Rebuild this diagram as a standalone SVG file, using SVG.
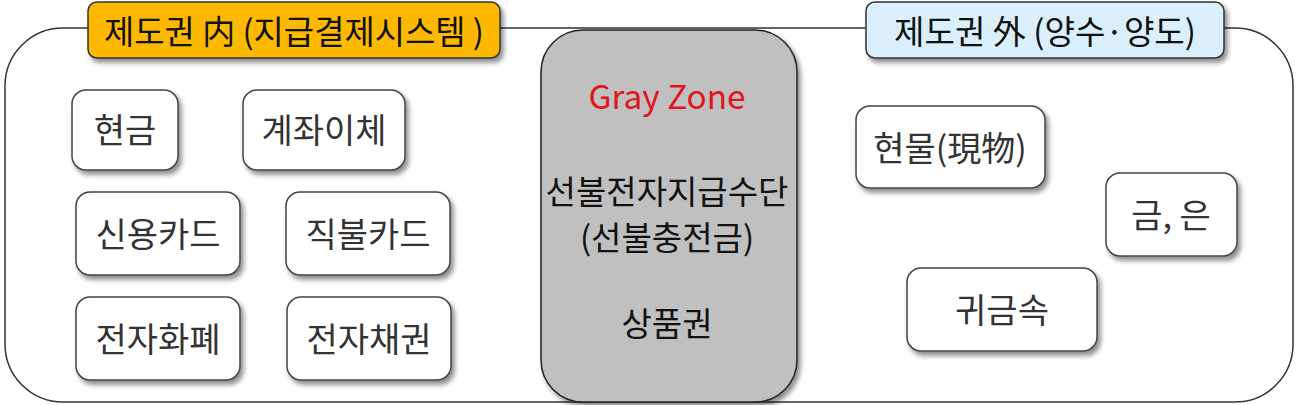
<svg xmlns="http://www.w3.org/2000/svg" width="1299" height="405" viewBox="0 0 1299 405">
<style>
.box{fill:#fff;stroke:#444;stroke-width:1.5;filter:url(#sh)}
.t{font-family:"Noto Sans CJK KR","Noto Sans",sans-serif;font-size:34px;fill:#333;text-anchor:middle;dominant-baseline:central}
.h{font-family:"Noto Sans CJK KR","Noto Sans",sans-serif;font-size:33px;fill:#111;text-anchor:middle;dominant-baseline:central}
.g{font-family:"Noto Sans CJK KR","Noto Sans",sans-serif;font-size:33px;fill:#111;text-anchor:middle;dominant-baseline:central}
</style>
<defs>
<filter id="sh" x="-20%" y="-20%" width="140%" height="150%">
<feDropShadow dx="3" dy="4" stdDeviation="2.5" flood-color="#000" flood-opacity="0.45"/>
</filter>
</defs>
<rect width="1299" height="405" fill="#fff"/>
<g id="outer">
<rect x="5" y="28" width="1288" height="374" rx="58" ry="58" fill="#fff" stroke="#333" stroke-width="1.5"/>
</g>
<g id="grayzone">
<rect x="541" y="30" width="256" height="372" rx="42" ry="42" fill="#c0c0c0" stroke="#222" stroke-width="1.5" filter="url(#sh)"/>
<text x="667" y="95" class="g" style="fill:#e3131b" textLength="157" lengthAdjust="spacingAndGlyphs">Gray Zone</text>
<text x="667" y="190" class="g">선불전자지급수단</text>
<text x="667" y="236" class="g">(선불충전금)</text>
<text x="667" y="322" class="g">상품권</text>
</g>
<g id="label-in">
<rect x="88" y="2" width="412" height="56" rx="9" fill="#fdb900" stroke="#333" stroke-width="1.5" filter="url(#sh)"/>
<text x="294" y="30" class="h" textLength="380" lengthAdjust="spacingAndGlyphs">제도권 内 (지급결제시스템 )</text>
</g>
<g id="label-out">
<rect x="866" y="2" width="358" height="56" rx="9" fill="#d9effb" stroke="#333" stroke-width="1.5" filter="url(#sh)"/>
<text x="1045" y="30" class="h" textLength="302" lengthAdjust="spacingAndGlyphs">제도권 外 (양수·양도)</text>
</g>
<g id="n1"><rect class="box" x="72" y="90" width="106" height="80" rx="14"/><text class="t" x="125" y="128">현금</text></g>
<g id="n2"><rect class="box" x="243" y="90" width="162" height="80" rx="14"/><text class="t" x="324" y="128">계좌이체</text></g>
<g id="n3"><rect class="box" x="76" y="192" width="164" height="83" rx="14"/><text class="t" x="158" y="232">신용카드</text></g>
<g id="n4"><rect class="box" x="286" y="192" width="164" height="83" rx="14"/><text class="t" x="368" y="232">직불카드</text></g>
<g id="n5"><rect class="box" x="76" y="297" width="164" height="83" rx="14"/><text class="t" x="158" y="337">전자화폐</text></g>
<g id="n6"><rect class="box" x="287" y="297" width="164" height="83" rx="14"/><text class="t" x="369" y="337">전자채권</text></g>
<g id="n7"><rect class="box" x="856" y="106" width="189" height="82" rx="14"/><text class="t" x="950" y="146">현물(現物)</text></g>
<g id="n8"><rect class="box" x="1106" y="173" width="131" height="83" rx="14"/><text class="t" x="1171" y="213">금, 은</text></g>
<g id="n9"><rect class="box" x="907" y="268" width="190" height="83" rx="14"/><text class="t" x="1002" y="308">귀금속</text></g>
<g id="connectors"></g>
</svg>
